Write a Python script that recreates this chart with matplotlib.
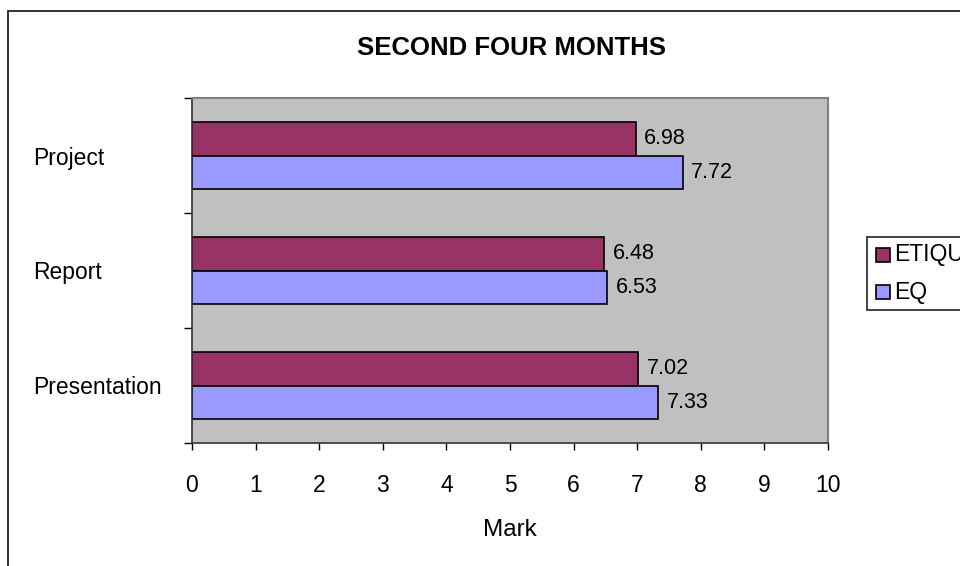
import numpy as np
import matplotlib.pyplot as plt
from matplotlib.patches import Rectangle

# data
categories = ['Presentation', 'Report', 'Project']
etiq_vals = [7.02, 6.48, 6.98]
eq_vals = [7.33, 6.53, 7.72]
series_names = ['ETIQUE', 'EQ']
xticks = list(range(0, 11))

plt.rcParams['font.family'] = ['Liberation Sans', 'DejaVu Sans']

fig = plt.figure(figsize=(9.6, 5.66), dpi=100)
W, H = 960, 566

# outer chart border (runs off the right and bottom edges)
fig.patches.append(Rectangle((8 / W, -0.1), 1.2, 1 - 11 / H + 0.1,
                             transform=fig.transFigure, fill=False,
                             edgecolor='#222222', linewidth=1.3))

ax = fig.add_axes([192 / W, 1 - 443 / H, (828 - 192) / W, (443 - 98) / H])
ax.set_facecolor('#C0C0C0')

y = np.arange(len(categories))
h = 0.287
b1 = ax.barh(y + h / 2, etiq_vals, height=h, color='#993366',
             edgecolor='black', linewidth=1.2, label=series_names[0])
b2 = ax.barh(y - h / 2, eq_vals, height=h, color='#9999FF',
             edgecolor='black', linewidth=1.2, label=series_names[1])

for bars in (b1, b2):
    ax.bar_label(bars, labels=[f'{v:.2f}' for v in bars.datavalues],
                 padding=6, fontsize=15.5)

ax.set_xlim(0, 10)
ax.set_ylim(-0.5, len(categories) - 0.5)
ax.set_xticks(xticks)
ax.tick_params(axis='x', labelsize=16.5, length=5, width=1, pad=17)

ax.set_yticks(y)
ax.set_yticklabels(categories, ha='left', fontsize=16.5)
ax.tick_params(axis='y', which='major', length=0, pad=(192 - 33) * 72 / 100)
ax.set_yticks(np.arange(-0.5, len(categories)), minor=True)
ax.tick_params(axis='y', which='minor', length=6, width=1)

for side in ('top', 'right'):
    ax.spines[side].set_color('#808080')
    ax.spines[side].set_linewidth(1.5)
for side in ('left', 'bottom'):
    ax.spines[side].set_color('#333333')
    ax.spines[side].set_linewidth(1.2)

ax.set_xlabel('Mark', fontsize=17.5, labelpad=16)
fig.text(511 / W, 1 - 48 / H, 'SECOND FOUR MONTHS', ha='center', va='center',
         fontsize=18.5, fontweight='bold')

# legend box at the right, partly cut off like the reference
fig.patches.append(Rectangle((867 / W, 1 - 310 / H), 0.2, 73 / H,
                             transform=fig.transFigure, facecolor='white',
                             edgecolor='#222222', linewidth=1.2))
for i, (name, col) in enumerate(zip(series_names, ['#993366', '#9999FF'])):
    yc = 255 + i * 37
    fig.patches.append(Rectangle((876 / W, 1 - (yc + 7) / H), 14 / W, 14 / H,
                                 transform=fig.transFigure, facecolor=col,
                                 edgecolor='black', linewidth=1.2))
    fig.text(894 / W, 1 - yc / H, name, va='center', ha='left', fontsize=16.5)

fig.savefig('out.png', dpi=100)
